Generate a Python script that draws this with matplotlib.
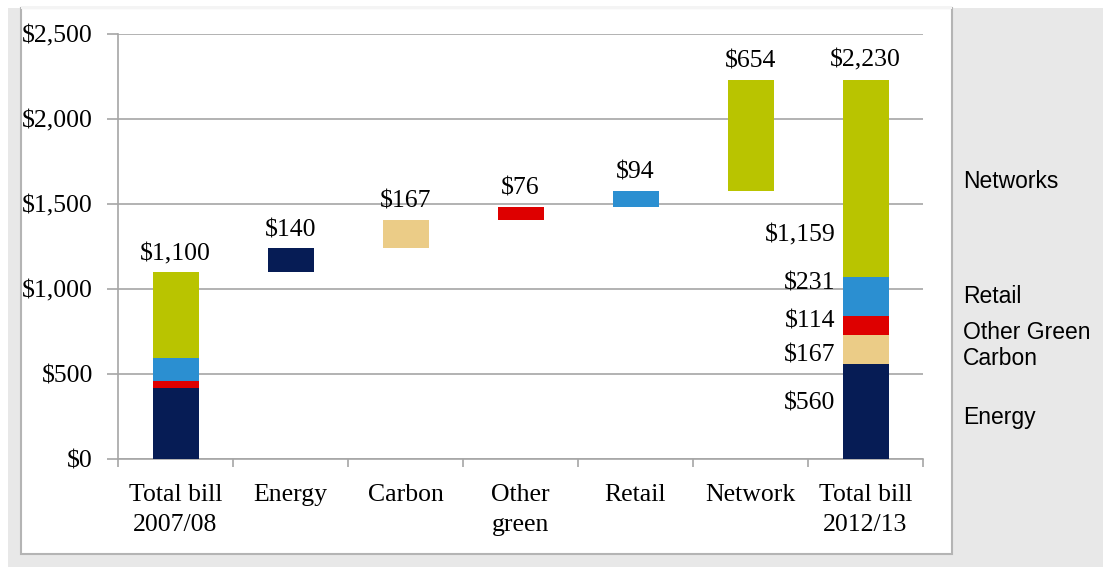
import matplotlib.pyplot as plt
from matplotlib.patches import Rectangle
import numpy as np

# bill components, bottom to top of each stacked bar
components = ['Energy', 'Carbon', 'Other Green', 'Retail', 'Networks']
colors = ['#061c55', '#ebcc87', '#de0000', '#2b8fd1', '#b9c400']

categories = ['Total bill\n2007/08', 'Energy', 'Carbon', 'Other\ngreen',
              'Retail', 'Network', 'Total bill\n2012/13']

bill_0708 = [420, 0, 38, 137, 505]
bill_1213 = [560, 167, 114, 231, 1159]
increases = [140, 167, 76, 94, 654]

total_labels = ['$1,100', '$2,230']
increase_labels = ['$140', '$167', '$76', '$94', '$654']
breakdown_labels = ['$560', '$167', '$114', '$231', '$1,159']

# where the hand-placed labels sit (data units)
breakdown_label_y = [329, 606, 806, 1035, 1318]
legend_label_y = [247, 594, 747, 953, 1635]

W, H = 1103, 567
fig = plt.figure(figsize=(W / 100, H / 100), dpi=100)
fig.patch.set_facecolor('white')

# grey frame and white panel behind the chart
def px(x0, y0, x1, y1):
    return (x0 / W, 1 - y1 / H), (x1 - x0) / W, (y1 - y0) / H

xy, w, h = px(8, 8, W, H)
fig.patches.append(Rectangle(xy, w, h, transform=fig.transFigure,
                             facecolor='#e8e8e8', edgecolor='none', zorder=-2))
xy, w, h = px(21, 8, 952, 554)
fig.patches.append(Rectangle(xy, w, h, transform=fig.transFigure,
                             facecolor='white', edgecolor='#b4b4b4', lw=1.5, zorder=-1))
# top edge of the panel is barely visible in the original
xy, w, h = px(21, 6, 952, 9)
fig.patches.append(Rectangle(xy, w, h, transform=fig.transFigure,
                             facecolor='#f4f4f4', edgecolor='none', zorder=-0.5))

ax = fig.add_axes([118 / W, 1 - 459 / H, (923 - 118) / W, (459 - 34) / H])
ax.set_facecolor('none')

serif = 'Liberation Serif'
fs = 18.5
width = 0.4
x = np.arange(len(categories))

# first total bill
bottom = 0
for val, col in zip(bill_0708, colors):
    ax.bar(x[0], val, width, bottom=bottom, color=col, lw=0, zorder=3)
    bottom += val
ax.annotate(total_labels[0], (x[0], sum(bill_0708)), xytext=(0, 5),
            textcoords='offset points', ha='center', va='bottom',
            family=serif, fontsize=fs)

# floating increases
base = sum(bill_0708)
for i, (inc, col) in enumerate(zip(increases, colors)):
    ax.bar(x[i + 1], inc, width, bottom=base, color=col, lw=0, zorder=3)
    ax.annotate(increase_labels[i], (x[i + 1], base + inc), xytext=(0, 5),
                textcoords='offset points', ha='center', va='bottom',
                family=serif, fontsize=fs)
    base += inc

# second total bill
bottom = 0
for val, col in zip(bill_1213, colors):
    ax.bar(x[-1], val, width, bottom=bottom, color=col, lw=0, zorder=3)
    bottom += val
ax.annotate(total_labels[1], (x[-1], sum(bill_1213)), xytext=(0, 6),
            textcoords='offset points', ha='center', va='bottom',
            family=serif, fontsize=fs)

for lab, y in zip(breakdown_labels, breakdown_label_y):
    ax.annotate(lab, (x[-1] - width / 2, y), xytext=(-5, 0),
                textcoords='offset points', ha='right', va='center',
                family=serif, fontsize=fs)

# right-hand legend text
for name, y in zip(components, legend_label_y):
    ax.text(1.05, y, name, transform=ax.get_yaxis_transform(),
            ha='left', va='center', family='Liberation Sans', fontsize=16.5,
            clip_on=False)

ax.set_xlim(-0.5, len(categories) - 0.5)
ax.set_ylim(0, 2500)
ax.set_yticks(np.arange(0, 2501, 500))
ax.set_yticklabels(['$0', '$500', '$1,000', '$1,500', '$2,000', '$2,500'],
                   family=serif, fontsize=fs)
ax.grid(axis='y', color='#a6a6a6', lw=1.2, zorder=1)

ax.set_xticks(np.arange(len(categories) + 1) - 0.5)
ax.set_xticklabels([])
ax.set_xticks(x, minor=True)
ax.set_xticklabels(categories, minor=True, family=serif, fontsize=fs,
                   linespacing=1.45)
ax.tick_params(axis='x', which='minor', length=0, pad=18)
ax.tick_params(axis='x', which='major', length=6, color='#a6a6a6', width=1.2)
ax.tick_params(axis='y', length=8, color='#a6a6a6', width=1.2, pad=10)

for s in ['top', 'right']:
    ax.spines[s].set_visible(False)
for s in ['left', 'bottom']:
    ax.spines[s].set_color('#a6a6a6')
    ax.spines[s].set_linewidth(1.2)

fig.savefig('out.png', dpi=100, facecolor=fig.get_facecolor())
